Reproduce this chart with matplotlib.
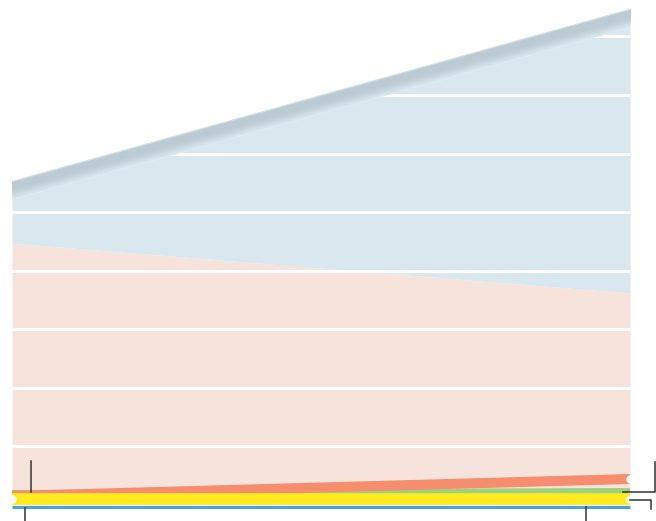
import matplotlib
matplotlib.use('Agg')

import numpy as np
import matplotlib.pyplot as plt
from matplotlib.colors import to_rgb
from matplotlib.lines import Line2D

# data (units: one gridline step)
years = [2020, 2050]
pink = [4.47, 3.62]          # lower large area
lightblue = [0.75, 4.54]     # stacked on pink
grey = [0.31, 0.31]          # thin top band
orange = [0.154, 0.444]
green = [0.154, 0.188]
yellow = [0.094, 0.094]
blue = [-0.026, -0.026]

fig = plt.figure(figsize=(6.56, 5.21), dpi=100)
ax = fig.add_axes([12 / 656, 13 / 521, 618 / 656, 508 / 521])

x = np.array(years)
p = np.array(pink)
lb_top = p + np.array(lightblue)
g_top = lb_top + np.array(grey)

ax.fill_between(x, 0, p, color='#f6e4dc', lw=0, zorder=1)
ax.fill_between(x, p, lb_top, color='#d9e7ef', lw=0, zorder=1)

# grey band, shaded towards the bottom (drawn light -> dark, overlapping)
dark = np.array(to_rgb('#bccad3'))
light = np.array(to_rgb('#d9e7ef'))
n = 12
for i in range(n, 0, -1):
    t = i / n
    c = dark + (light - dark) * max(0.0, (t - 0.45) / 0.55) ** 1.2
    ax.fill_between(x, g_top - (g_top - lb_top) * t, g_top, color=c, lw=0, zorder=3)
ax.plot(x, g_top - 0.008, color='#d3e0e8', lw=0.9, zorder=3.1)

# small series as thick lines
ax.plot(x, green, color='#9dd17f', lw=8.6, solid_capstyle='butt', zorder=4, clip_on=False)
ax.plot(x, orange, color='#f68d6e', lw=7.2, solid_capstyle='butt', zorder=5, clip_on=False)
ax.plot(x, yellow, color='#ffec1f', lw=8.3, solid_capstyle='butt', zorder=6, clip_on=False)
ax.plot(x, blue, color='#4aa3d6', lw=2.2, solid_capstyle='butt', zorder=7, clip_on=False)

# end markers
ax.plot([x[-1]], [green[-1]], 'o', color='white', ms=4, mew=0, zorder=5.5, clip_on=False)
ax.plot([x[-1]], [orange[-1]], 'o', color='white', ms=6, mew=0, zorder=8, clip_on=False)
ax.plot([x[0], x[-1]], [yellow[0], yellow[-1]], 'o', color='white', ms=6, mew=0,
        zorder=6.5, clip_on=False)

# gridlines
ax.set_ylim(-3 / 58.57, 505 / 58.57)
ax.set_xlim(years[0], years[-1])
ax.set_yticks(range(1, 9))
ax.set_xticks([])
ax.yaxis.grid(True, color='white', lw=2.2)
ax.set_axisbelow(False)
ax.tick_params(length=0, labelleft=False, labelbottom=False)
for s in ax.spines.values():
    s.set_visible(False)


# leader lines, pixel offsets from a data point
def leader(xv, yv, pts):
    bx, by = ax.transData.transform((xv, yv))
    fig.add_artist(Line2D([bx + dx for dx, dy in pts], [by + dy for dx, dy in pts],
                          transform=None, color='#333333', lw=1.1, zorder=10))


leader(years[0], orange[0], [(19, 4), (19, 35)])
leader(years[0], blue[0], [(13, -1.5), (13, -25)])
leader(years[-1], green[-1], [(-7, 2), (25, 2), (25, 32)])
leader(years[-1], yellow[-1], [(0, -0.5), (21, -0.5), (21, -9.5)])
leader(years[-1], blue[-1], [(-44, -0.5), (-44, -25)])

fig.savefig('out.png', dpi=100)
